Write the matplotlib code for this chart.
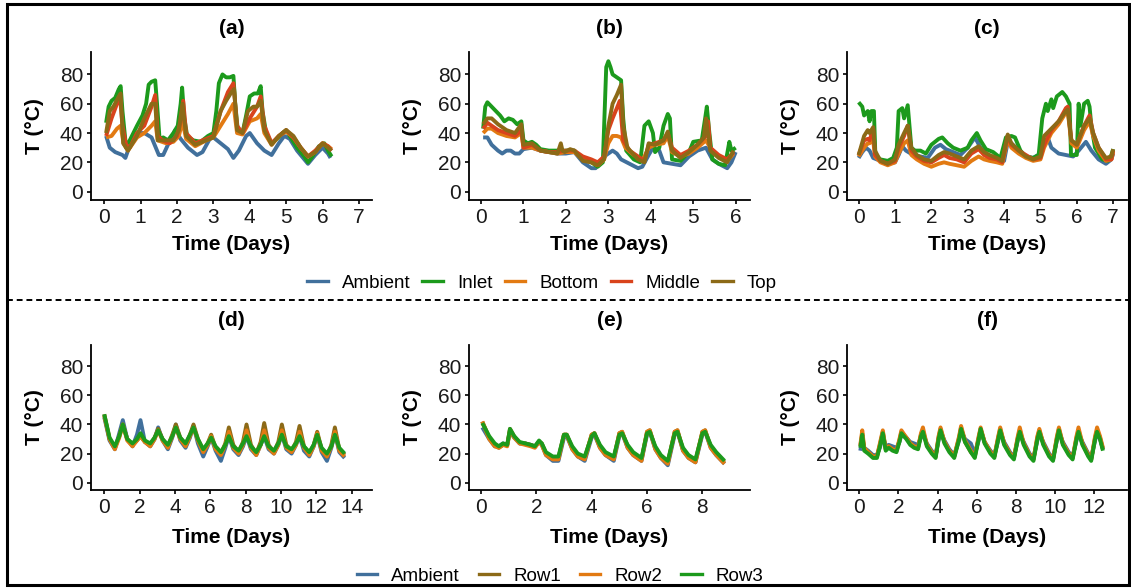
import matplotlib
matplotlib.use('Agg')
import matplotlib.pyplot as plt
from matplotlib.lines import Line2D
from matplotlib.patches import Rectangle

plt.rcParams['font.family'] = ['Liberation Sans', 'DejaVu Sans']

# ---------------- data: panel (a) ----------------
a_amb_t = [0.05,0.15,0.3,0.5,0.58,0.68,0.8,0.95,1.1,1.3,1.5,1.62,1.75,1.95,2.1,2.3,2.55,2.7,2.9,3.0,3.2,3.4,3.55,3.7,3.9,4.0,4.2,4.4,4.6,4.8,4.95,5.1,5.3,5.6,5.8,6.0,6.15,6.22]
a_amb_T = [38,30,27,25,23,30,37,40,40,37,25,25,32,42,36,30,25,27,36,37,33,29,23,28,38,40,33,28,25,33,38,36,28,19,25,30,26,23]
a_inl_t = [0.05,0.12,0.2,0.3,0.4,0.45,0.5,0.6,0.7,0.9,1.05,1.15,1.22,1.3,1.4,1.45,1.52,1.62,1.75,1.9,2.02,2.1,2.14,2.2,2.28,2.45,2.65,2.85,3.0,3.08,3.15,3.25,3.35,3.45,3.55,3.6,3.67,3.8,3.9,4.0,4.12,4.22,4.3,4.35,4.45,4.6,4.75,4.9,5.0,5.15,5.3,5.5,5.6,5.72,5.9,6.05,6.15,6.25]
a_inl_T = [47,58,62,64,70,72,55,30,35,45,52,60,73,75,76,60,36,37,35,40,45,60,71,50,38,35,34,38,40,55,74,80,78,78,79,60,42,40,52,65,67,67,72,55,40,33,36,40,42,36,30,24,20,24,31,33,28,24]
a_bot_t = [0.05,0.2,0.35,0.45,0.53,0.65,0.9,1.1,1.3,1.4,1.47,1.7,1.9,2.05,2.15,2.25,2.5,2.8,3.0,3.2,3.4,3.55,3.65,3.8,4.0,4.2,4.3,4.4,4.6,4.8,5.0,5.2,5.4,5.6,5.8,6.0,6.15,6.25]
a_bot_T = [37,38,43,45,33,28,37,40,45,48,35,33,34,38,48,36,31,35,37,45,53,60,40,39,48,50,53,40,32,38,41,37,30,24,27,33,31,29]
a_mid_t = [0.05,0.2,0.35,0.43,0.5,0.6,0.7,0.9,1.1,1.3,1.4,1.47,1.6,1.8,2.0,2.1,2.17,2.25,2.5,2.8,3.0,3.2,3.4,3.55,3.65,3.8,4.0,4.2,4.3,4.4,4.6,4.8,5.0,5.2,5.4,5.6,5.8,6.0,6.15,6.25]
a_mid_T = [38,50,60,65,45,32,30,40,45,58,66,38,35,33,38,48,62,40,33,36,38,55,68,74,45,40,50,58,65,45,33,38,42,37,30,24,28,33,31,28]
a_top_t = [0.05,0.15,0.25,0.4,0.45,0.52,0.65,0.9,1.1,1.3,1.4,1.47,1.7,1.9,2.05,2.15,2.25,2.5,2.8,3.0,3.2,3.35,3.5,3.57,3.65,3.8,3.95,4.1,4.2,4.3,4.4,4.6,4.8,5.0,5.2,5.4,5.6,5.8,6.0,6.15,6.25]
a_top_T = [40,55,58,65,67,33,28,38,50,60,60,35,35,35,42,60,38,32,35,37,55,62,68,70,42,40,55,58,58,62,42,32,38,42,38,30,24,27,33,30,28]

# ---------------- data: panel (b) ----------------
b_amb_t = [0.05,0.15,0.25,0.4,0.5,0.6,0.7,0.8,0.9,1.0,1.2,1.4,1.6,1.8,2.0,2.2,2.4,2.6,2.7,2.8,2.95,3.1,3.2,3.3,3.5,3.7,3.8,3.95,4.05,4.2,4.3,4.5,4.7,4.9,5.1,5.3,5.45,5.6,5.8,5.9,6.0]
b_amb_T = [37,37,32,28,26,28,28,26,26,29,30,28,27,26,26,27,20,16,16,20,25,28,26,22,19,16,17,25,30,28,20,19,18,24,28,30,22,19,16,20,27]
b_inl_t = [0.05,0.1,0.15,0.25,0.35,0.45,0.55,0.65,0.75,0.85,0.95,1.0,1.1,1.2,1.3,1.4,1.6,1.8,2.0,2.2,2.4,2.6,2.75,2.87,2.95,3.0,3.05,3.1,3.2,3.3,3.35,3.42,3.6,3.75,3.85,3.95,4.05,4.1,4.2,4.3,4.4,4.45,4.5,4.7,4.9,5.0,5.2,5.28,5.32,5.38,5.45,5.6,5.75,5.85,5.9,6.0]
b_inl_T = [43,58,61,58,55,52,48,50,49,46,48,35,33,34,32,29,28,28,28,28,22,20,17,20,85,89,85,80,78,76,50,28,22,20,45,48,40,27,30,45,53,50,22,21,27,34,35,50,58,40,22,19,18,34,28,30]
b_bot_t = [0.05,0.15,0.25,0.4,0.6,0.8,0.95,1.0,1.2,1.4,1.6,1.8,2.0,2.2,2.4,2.6,2.75,2.9,3.0,3.1,3.2,3.3,3.4,3.6,3.8,3.95,4.1,4.3,4.4,4.5,4.7,4.9,5.1,5.3,5.4,5.6,5.8,5.95]
b_bot_T = [40,43,43,40,38,37,40,30,30,28,27,26,27,27,22,20,18,22,33,38,38,37,30,25,21,30,32,33,38,27,24,26,30,35,30,24,21,26]
b_mid_t = [0.05,0.15,0.25,0.4,0.6,0.8,0.95,1.0,1.2,1.4,1.6,1.8,2.0,2.2,2.4,2.6,2.75,2.9,3.0,3.1,3.2,3.27,3.35,3.5,3.7,3.85,3.95,4.1,4.3,4.4,4.5,4.7,4.9,5.1,5.3,5.35,5.4,5.6,5.8,5.95]
b_mid_T = [43,47,45,42,40,38,42,30,32,28,27,27,28,28,24,22,20,24,42,50,57,62,35,28,24,21,32,33,35,40,30,25,28,32,38,48,30,25,22,27]
b_top_t = [0.05,0.15,0.25,0.4,0.6,0.8,0.95,1.0,1.2,1.4,1.6,1.8,1.88,1.92,1.97,2.1,2.2,2.4,2.6,2.75,2.9,3.0,3.1,3.2,3.3,3.35,3.45,3.7,3.85,3.95,4.1,4.3,4.4,4.5,4.7,4.9,5.1,5.25,5.3,5.4,5.6,5.8,5.95]
b_top_T = [46,50,50,46,42,40,46,32,33,28,27,26,33,28,27,29,28,21,20,18,22,45,60,66,73,45,30,22,20,33,32,35,41,28,23,27,32,37,50,28,23,20,28]

# ---------------- data: panel (c) ----------------
c_amb_t = [0.0,0.1,0.2,0.3,0.4,0.6,0.8,1.0,1.1,1.2,1.3,1.5,1.7,1.9,2.1,2.25,2.4,2.6,2.8,3.0,3.2,3.35,3.6,3.8,4.0,4.1,4.2,4.4,4.6,4.8,5.0,5.2,5.3,5.5,5.7,5.9,6.05,6.25,6.4,6.6,6.8,6.95,7.0]
c_amb_T = [23,27,30,28,23,21,19,20,25,31,28,25,24,23,30,32,29,27,25,30,37,30,24,22,21,34,33,28,24,23,26,37,30,26,25,24,28,34,28,22,19,22,26]
c_inl_t = [0.0,0.1,0.15,0.25,0.3,0.35,0.42,0.46,0.6,0.8,0.95,1.05,1.1,1.2,1.25,1.35,1.45,1.55,1.7,1.85,2.0,2.2,2.3,2.45,2.6,2.8,3.0,3.1,3.25,3.35,3.5,3.7,3.9,4.05,4.2,4.3,4.45,4.6,4.8,4.95,5.05,5.15,5.2,5.3,5.35,5.45,5.55,5.6,5.7,5.8,5.84,6.0,6.05,6.1,6.2,6.3,6.35,6.4,6.5,6.7,6.85,6.95,7.0]
c_inl_T = [61,58,52,55,48,55,55,25,22,21,23,30,55,57,50,59,30,28,28,26,32,36,37,33,30,28,30,35,40,35,29,27,23,37,38,37,28,24,23,25,50,60,55,63,57,65,67,68,65,60,25,25,60,45,60,62,58,45,30,22,21,25,29]
c_t = [0.0,0.15,0.25,0.3,0.4,0.45,0.6,0.8,1.0,1.1,1.25,1.35,1.45,1.6,1.8,2.0,2.2,2.35,2.5,2.7,2.9,3.1,3.3,3.45,3.6,3.8,3.95,4.1,4.2,4.4,4.6,4.8,5.0,5.1,5.3,5.5,5.7,5.75,5.85,6.0,6.2,6.35,6.45,6.6,6.8,6.95,7.0]
c_bot_T = [24,30,33,33,35,24,20,18,20,26,33,35,25,22,19,17,19,20,19,18,17,21,24,22,21,20,19,36,30,26,23,21,22,30,40,46,54,55,33,30,42,48,38,28,21,22,27]
c_mid_T = [25,35,36,35,43,25,21,19,21,30,38,45,28,24,21,20,23,25,23,22,20,26,29,25,23,22,20,38,32,28,25,22,23,32,42,48,57,58,35,32,45,52,40,30,22,22,28]
c_top_T = [25,38,42,40,44,28,21,19,22,32,40,45,30,25,22,21,25,27,26,24,22,28,31,27,25,23,21,39,33,28,24,22,24,38,43,48,55,56,35,32,45,50,40,30,23,24,29]

# ---------------- data: panel (d) ----------------
d_t = [0.0,0.3,0.6,0.85, 1.05,1.3,1.6,1.85, 2.05,2.3,2.6,2.85, 3.05,3.3,3.6,3.85, 4.05,4.3,4.6,4.85,
       5.05,5.3,5.6,5.85, 6.05,6.3,6.6,6.85, 7.05,7.3,7.6,7.85, 8.05,8.3,8.6,8.85, 9.05,9.3,9.6,9.85,
       10.05,10.3,10.6,10.85, 11.05,11.3,11.6,11.85, 12.05,12.3,12.6,12.85, 13.05,13.3,13.6]
d_amb = [45,29,23,34, 43,30,25,33, 43,28,25,30, 38,29,23,31, 40,29,24,31, 39,27,18,25, 31,22,15,24, 32,23,19,25, 32,23,19,26, 32,23,20,26, 33,23,20,26, 32,22,18,25, 33,21,15,24, 34,21,17]
d_row1 = [47,30,24,32, 40,30,26,29, 32,28,26,31, 37,30,25,33, 40,31,26,33, 40,30,22,27, 33,24,20,27, 38,26,21,28, 40,26,20,28, 41,26,21,28, 40,26,22,28, 39,25,20,26, 35,23,18,26, 38,23,19]
d_row2 = [46,30,23,31, 40,29,25,29, 32,28,25,30, 36,29,24,32, 38,30,25,32, 38,29,21,26, 32,23,19,26, 35,24,20,26, 36,24,19,26, 36,24,20,26, 36,24,21,26, 35,24,19,25, 34,22,18,25, 35,22,18]
d_row3 = [47,31,25,32, 40,30,27,30, 34,29,27,31, 36,30,26,32, 38,31,27,33, 38,30,23,27, 31,25,21,26, 32,25,22,27, 32,25,21,26, 32,25,22,27, 33,25,23,27, 32,25,21,26, 33,24,20,25, 33,24,20]

# ---------------- data: panel (e) ----------------
e_t = [0.05,0.3,0.5,0.65,0.8,0.95,1.05,1.2,1.4,1.6,1.8,1.95,2.1,2.2,2.35,2.6,2.8,3.0,3.1,3.3,3.5,3.75,4.0,4.1,4.3,4.5,4.8,5.0,5.1,5.3,5.5,5.8,6.0,6.1,6.3,6.5,6.75,7.0,7.1,7.3,7.5,7.75,8.0,8.1,8.3,8.5,8.8]
e_amb = [38,30,25,25,27,26,35,31,27,27,26,25,28,26,19,15,15,31,32,23,18,15,31,33,24,19,15,32,34,24,19,15,33,35,23,17,12,33,35,22,17,14,33,35,24,19,13]
e_row1 = [42,31,26,24,26,26,37,32,27,27,26,25,28,27,20,17,17,33,33,24,19,17,33,34,25,20,17,34,35,25,20,16,35,36,24,18,14,35,36,23,18,15,35,36,25,20,14]
e_row2 = [42,30,25,24,26,25,36,31,27,26,25,24,28,26,19,16,16,33,33,23,18,16,33,34,24,19,16,34,35,24,19,15,35,36,23,17,13,35,36,22,17,14,35,36,24,19,13]
e_row3 = [41,32,27,25,27,26,37,32,28,27,26,25,29,27,21,18,18,33,33,25,20,18,32,34,26,21,18,33,34,26,21,17,34,35,25,19,15,34,35,24,19,16,34,35,26,21,15]

# ---------------- data: panel (f) ----------------
f_t = [0.05,0.15,0.25,0.45,0.7,0.9,1.05,1.2,1.35,1.5,1.7,1.9,2.05,2.15,2.4,2.6,2.8,3.0,3.15,3.25,3.45,3.7,3.9,4.05,4.15,4.35,4.6,4.85,5.1,5.2,5.4,5.7,5.9,6.1,6.2,6.4,6.7,6.9,7.1,7.2,7.4,7.7,7.9,8.1,8.2,8.4,8.7,8.9,9.1,9.2,9.4,9.7,9.9,10.1,10.2,10.4,10.7,10.9,11.1,11.2,11.4,11.7,11.85,12.05,12.15,12.3,12.45]
f_amb = [22,30,24,22,19,19,24,32,25,26,25,24,28,33,31,28,27,26,31,34,27,22,19,29,35,29,23,19,29,36,30,27,20,29,36,28,22,19,29,35,28,21,18,29,34,28,20,17,29,34,28,20,17,29,35,28,21,18,29,34,28,20,17,29,34,30,23]
f_row1 = [25,34,23,21,18,18,26,35,23,25,23,22,29,35,31,27,25,24,33,36,26,21,18,31,37,28,22,18,31,38,28,21,18,31,37,28,21,18,31,37,27,20,17,31,36,27,19,16,31,36,27,19,16,31,37,27,20,17,31,36,27,19,16,31,36,31,23]
f_row2 = [26,36,24,21,18,18,27,36,23,25,23,22,30,36,31,27,25,24,34,38,26,21,18,32,38,28,22,18,32,39,29,22,18,32,38,28,21,18,32,38,27,20,17,32,38,27,19,16,32,37,27,19,16,32,38,27,20,17,32,38,27,19,16,32,38,32,24]
f_row3 = [24,33,22,20,17,17,25,34,22,24,22,21,28,34,30,26,24,23,32,35,25,20,17,30,36,27,21,17,30,37,28,21,17,30,37,27,20,17,30,36,26,19,16,30,35,26,18,15,30,35,26,18,15,30,36,26,19,16,30,35,26,18,15,30,35,30,22]

titles = ['(a)', '(b)', '(c)', '(d)', '(e)', '(f)']
xticks_list = [list(range(0, 8)), list(range(0, 7)), list(range(0, 8)),
               list(range(0, 15, 2)), list(range(0, 9, 2)), list(range(0, 13, 2))]
yticks = [0, 20, 40, 60, 80]
legend_top = ['Ambient', 'Inlet', 'Bottom', 'Middle', 'Top']
legend_bot = ['Ambient', 'Row1', 'Row2', 'Row3']

# ---------------- styling ----------------
C_AMB = '#41709C'
C_INL = '#1C9A1C'
C_BOT = '#E27A12'
C_MID = '#D9431C'
C_TOP = '#8C6A17'
LW = 2.8
FS = 15
FS_LEG = 13.5

W, H = 1131, 588
fig = plt.figure(figsize=(W / 100, H / 100), dpi=100)

def make_ax(l, t, r, b):
    return fig.add_axes([l / W, 1 - b / H, (r - l) / W, (b - t) / H])

lefts = [91, 469, 847]
rights = [372, 750, 1127]
axes = []
for i in range(3):
    axes.append(make_ax(lefts[i], 52, rights[i], 200))
for i in range(3):
    axes.append(make_ax(lefts[i], 345, rights[i], 490))

xlims = [(-0.365, 7.36), (-0.283, 6.337), (-0.32, 7.38),
         (-0.75, 15.15), (-0.43, 9.72), (-0.63, 13.68)]
ylims = [(-5.7, 95.3)] * 3 + [(-5.0, 94.6)] * 3

top_series = [
    [(a_amb_t, a_amb_T), (a_inl_t, a_inl_T), (a_bot_t, a_bot_T), (a_mid_t, a_mid_T), (a_top_t, a_top_T)],
    [(b_amb_t, b_amb_T), (b_inl_t, b_inl_T), (b_bot_t, b_bot_T), (b_mid_t, b_mid_T), (b_top_t, b_top_T)],
    [(c_amb_t, c_amb_T), (c_inl_t, c_inl_T), (c_t, c_bot_T), (c_t, c_mid_T), (c_t, c_top_T)],
]
top_colors = [C_AMB, C_INL, C_BOT, C_MID, C_TOP]
bot_series = [
    [(d_t, d_amb), (d_t, d_row1), (d_t, d_row2), (d_t, d_row3)],
    [(e_t, e_amb), (e_t, e_row1), (e_t, e_row2), (e_t, e_row3)],
    [(f_t, f_amb), (f_t, f_row1), (f_t, f_row2), (f_t, f_row3)],
]
bot_colors = [C_AMB, C_TOP, C_BOT, C_INL]

for i, ax in enumerate(axes):
    if i < 3:
        series, cols = top_series[i], top_colors
        title_y = (200 - 29) / 148
        xlab_y = -0.30
    else:
        series, cols = bot_series[i - 3], bot_colors
        title_y = (490 - 320) / 145
        xlab_y = -0.33
    for (t, v), c in zip(series, cols):
        ax.plot(t, v, color=c, lw=LW, solid_joinstyle='round', solid_capstyle='butt')
    ax.set_xlim(*xlims[i])
    ax.set_ylim(*ylims[i])
    ax.set_xticks(xticks_list[i])
    ax.set_yticks(yticks)
    for s in ['top', 'right']:
        ax.spines[s].set_visible(False)
    for s in ['left', 'bottom']:
        ax.spines[s].set_linewidth(1.3)
        ax.spines[s].set_color('black')
    ax.tick_params(direction='out', length=3, width=1.2, labelsize=FS,
                   colors='black', labelcolor='#1a1a1a', pad=2.5)
    ax.set_xlabel('Time (Days)', fontsize=FS, fontweight='bold')
    ax.set_ylabel('T (°C)', fontsize=FS, fontweight='bold')
    ax.xaxis.set_label_coords(0.5, xlab_y)
    ax.xaxis.label.set_verticalalignment('center')
    ax.yaxis.set_label_coords(-0.2, 0.5)
    ax.yaxis.label.set_verticalalignment('center')
    ax.text(0.5, title_y, titles[i], transform=ax.transAxes, ha='center', va='center',
            fontsize=FS, fontweight='bold')

# legends
h_top = [Line2D([], [], color=c, lw=2.4) for c in top_colors]
fig.legend(h_top, legend_top, loc='center', bbox_to_anchor=(542 / W, 1 - 283 / H),
           ncol=5, frameon=False, fontsize=FS_LEG, handlelength=1.1, handletextpad=0.75,
           columnspacing=0.65, borderpad=0, borderaxespad=0)
h_bot = [Line2D([], [], color=c, lw=2.4) for c in bot_colors]
fig.legend(h_bot, legend_bot, loc='center', bbox_to_anchor=(560 / W, 1 - 576 / H),
           ncol=4, frameon=False, fontsize=FS_LEG, handlelength=1.1, handletextpad=0.75,
           columnspacing=1.0, borderpad=0, borderaxespad=0)

# dashed separator and outer frame
fig.add_artist(Line2D([7 / W, 1129 / W], [1 - 299.5 / H] * 2, transform=fig.transFigure,
                      color='black', lw=1.4, ls=(0, (3, 2))))
fig.add_artist(Rectangle((7 / W, 1 - 585 / H), (1129 - 7) / W, (585 - 4) / H,
                         transform=fig.transFigure, fill=False, lw=2.2, ec='black'))

fig.savefig('out.png', dpi=100)
